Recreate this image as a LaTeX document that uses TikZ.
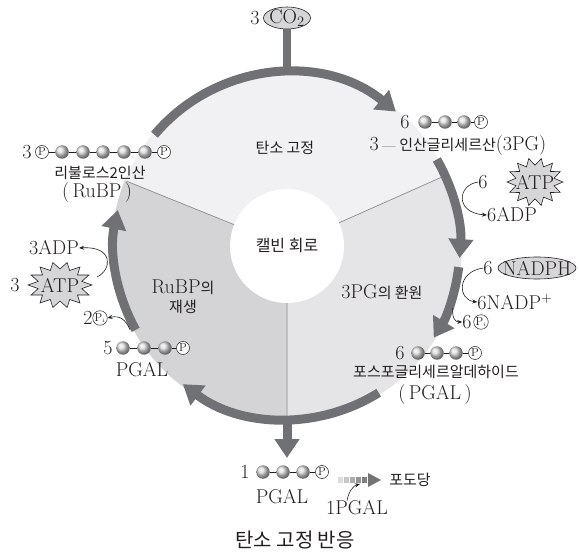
\documentclass[tikz,border=0pt]{standalone}
\usepackage{fontspec}
\newfontfamily\kr{Noto Sans CJK KR}
\usetikzlibrary{arrows.meta,calc,shapes.geometric}
\newcommand\kor[1]{{\kr\fontsize{15}{15}\selectfont #1}}
\definecolor{ringc}{RGB}{112,113,116}
\definecolor{secT}{RGB}{241,241,243}
\definecolor{secR}{RGB}{229,229,231}
\definecolor{secL}{RGB}{212,212,214}
\definecolor{divc}{RGB}{140,140,142}
\definecolor{ellc}{RGB}{214,214,216}
\definecolor{txt}{RGB}{35,31,32}
\newcommand\burst[5]{%
  \filldraw[fill=ellc,draw=txt,line width=0.6pt]
    plot[domain=0:27,samples=28]
    ({#2+#4*(1-0.3*mod(round(\x),2))*cos(\x*360/28)},
     {#3+#5*(1-0.3*mod(round(\x),2))*sin(\x*360/28)}) -- cycle;
  \node[lat] (#1) at (#2,#3) {ATP};}
\begin{document}
\begin{tikzpicture}[x=1pt,y=1pt,
  lat/.style={font=\fontsize{20}{20}\selectfont, text=txt, inner sep=0pt},
  kor/.style={font=\kr\fontsize{15}{15}\selectfont, text=txt, inner sep=0pt},
  ball/.style={circle, minimum size=13.5pt, inner sep=0pt, shading=ball, ball color=black!14},
  pc/.style={circle, draw=txt, line width=0.5pt, fill=white, minimum size=13pt, inner sep=0pt, text=txt, font=\fontsize{11.5}{11.5}\selectfont},
  bond/.style={line width=0.7pt, draw=txt},
  ringseg/.style={line width=9pt, draw=ringc, -{Triangle[width=24pt,length=19pt]}},
  thinarr/.style={line width=0.6pt, draw=txt, -{Stealth[length=5pt,width=4pt]}},
  ellst/.style={ellipse, draw=txt, line width=0.6pt, fill=ellc, inner sep=0pt},
]
\useasboundingbox (0,0) rectangle (579,558);
\coordinate (C) at (287,312);
% sectors
\fill[secT] (C) -- ($(C)+(24:175pt)$) arc[start angle=24,end angle=158,radius=175pt] -- cycle;
\fill[secR] (C) -- ($(C)+(-90:175pt)$) arc[start angle=-90,end angle=24,radius=175pt] -- cycle;
\fill[secL] (C) -- ($(C)+(158:175pt)$) arc[start angle=158,end angle=270,radius=175pt] -- cycle;
\draw[divc,line width=0.7pt] (C) -- ($(C)+(24:173pt)$) (C) -- ($(C)+(158:173pt)$) (C) -- ($(C)+(270:173pt)$);
\node[circle, fill=white, minimum size=114pt, font=\kr\fontsize{16}{16}\selectfont, text=txt, inner sep=0pt] (core) at (C) {캘빈 회로};
% ring
\draw[ringseg] ($(C)+(140:173pt)$) arc[start angle=140,end angle=51,radius=173pt];
\draw[ringseg] ($(C)+(30:173pt)$) arc[start angle=30,end angle=-4,radius=173pt];
\draw[ringseg] ($(C)+(-7:173pt)$) arc[start angle=-7,end angle=-32,radius=173pt];
\draw[ringseg] ($(C)+(-58:173pt)$) arc[start angle=-58,end angle=-127,radius=173pt];
\draw[ringseg] ($(C)+(209:173pt)$) arc[start angle=209,end angle=168,radius=173pt];
% CO2
\node[ellst, minimum width=47pt, minimum height=22pt] (co2) at (287,540) {};
\node[lat] (co2t) at (co2) {CO$_2$};
\node[lat] (co2n) at (255,540) {3};
\coordinate (rtop) at ($(C)+(90:173pt)$);
\draw[line width=8pt, ringc] (co2.south) -- (rtop);
% bottom arrow
\coordinate (rbot) at ($(C)+(270:173pt)$);
\coordinate (tipB) at (287,100);
\draw[ringseg] (rbot) -- (tipB);
% sector labels
\node[kor] (tanso) at (285,410) {탄소 고정};
\node[lat] (red) at (382,266) {3PG\kor{의 환원}};
\node[lat] (reg1) at (183,271) {RuBP\kor{의}};
\node[kor] (reg2) at (183,251) {재생};
% top right: 6 x 3PG
\node[lat] (m1n) at (405,436) {6};
\foreach \i/\x in {1/425,2/445,3/464} \node[ball] (m1b\i) at (\x,436) {};
\node[pc] (m1p) at (481,436) {P};
\draw[bond] (m1b1)--(m1b2) (m1b2)--(m1b3) (m1b3)--(m1p);
\node[lat] (pg3) at (458,412) {3\,{\fontsize{14}{14}\selectfont ---}\,\kor{인산글리세르산}(3PG)};
% right ATP
\node[lat] (a6R) at (483,376) {6};
\burst{atpR}{535}{376}{28}{24}
\node[lat] (adpR) at (512,343) {6ADP};
\draw[thinarr] (a6R.west) .. controls (457,373) and (455,345) .. (adpR.west);
% NADPH
\node[lat] (n6) at (488,290) {6};
\node[ellst, minimum width=78pt, minimum height=22pt] (nadphE) at (537,290) {};
\node[lat] (nadph) at (nadphE) {NADPH};
\node[lat] (nadp) at (515,256) {6NADP$^{+}$};
\draw[thinarr] (n6.west) .. controls (456,286) and (458,258) .. (nadp.west);
\node[lat] (pi6n) at (467,236) {6};
\node[pc] (pi6) at (481,236) {P$_{\scriptscriptstyle i}$};
\coordinate (pi6s) at ($(C)+(-20.5:177pt)$);
\draw[thinarr] (pi6s) .. controls (452,240) and (455,236) .. (pi6n.west);
% bottom right PGAL
\node[lat] (m2n) at (400,205) {6};
\foreach \i/\x in {1/418,2/437,3/456} \node[ball] (m2b\i) at (\x,205) {};
\node[pc] (m2p) at (475,205) {P};
\draw[bond] (m2b1)--(m2b2) (m2b2)--(m2b3) (m2b3)--(m2p);
\node[kor] (pgalname) at (436,186) {포스포글리세르알데하이드};
\node[lat] (pgalab) at (435,163) {(\,PGAL\,)};
% bottom output
\node[lat] (m3n) at (245,86) {1};
\foreach \i/\x in {1/263,2/283,3/303} \node[ball] (m3b\i) at (\x,86) {};
\node[pc] (m3p) at (322,86) {P};
\draw[bond] (m3b1)--(m3b2) (m3b2)--(m3b3) (m3b3)--(m3p);
\node[lat] (pgal1) at (282,61) {PGAL};
\foreach \i/\c in {0/14,1/22,2/32,3/42,4/50}
  \fill[black!\c] (338+6*\i,75) rectangle ++(5,6);
\fill[black!55] (368,71) -- (368,85) -- (381,78) -- cycle;
\coordinate (glarr) at (360,74);
\node[kor] (glc) at (410,78) {포도당};
\node[lat] (pgalout) at (357,50) {1PGAL};
\draw[thinarr] ([xshift=-10pt]pgalout.north) .. controls (349,67) and (353,72) .. (glarr);
\node[font=\kr\fontsize{20}{20}\selectfont, text=txt, inner sep=0pt] (cap) at (295,18) {탄소 고정 반응};
% left lower
\node[lat] (m4n) at (108,210) {5};
\foreach \i/\x in {1/123,2/144,3/165} \node[ball] (m4b\i) at (\x,210) {};
\node[pc] (m4p) at (183,210) {P};
\draw[bond] (m4b1)--(m4b2) (m4b2)--(m4b3) (m4b3)--(m4p);
\node[lat] (pgal5) at (142,188) {PGAL};
\node[lat] (p2n) at (88,240) {2};
\node[pc] (p2) at (100,240) {P$_{\scriptscriptstyle i}$};
\coordinate (p2s) at ($(C)+(208:178pt)$);
\draw[thinarr] (p2s) .. controls (126,238) and (120,243) .. (p2.east);
\node[lat] (a3L) at (15,273) {3};
\burst{atpL}{60}{273}{32}{23}
\node[lat] (adpL) at (54,310) {3ADP};
\draw[thinarr] (97,281) .. controls (112,288) and (114,312) .. (adpL.east);
% left upper RuBP
\node[lat] (m5n) at (27,406) {3};
\node[pc] (m5p1) at (42,406) {P};
\foreach \i/\x in {1/62,2/83,3/103,4/124,5/145} \node[ball] (m5b\i) at (\x,406) {};
\node[pc] (m5p2) at (164,406) {P};
\draw[bond] (m5p1)--(m5b1) (m5b1)--(m5b2) (m5b2)--(m5b3) (m5b3)--(m5b4) (m5b4)--(m5b5) (m5b5)--(m5p2);
\node[kor] (rubpname) at (100,385) {리불로스2인산};
\node[lat] (rubpab) at (97,365) {(\,RuBP\,)};
\end{tikzpicture}
\end{document}
